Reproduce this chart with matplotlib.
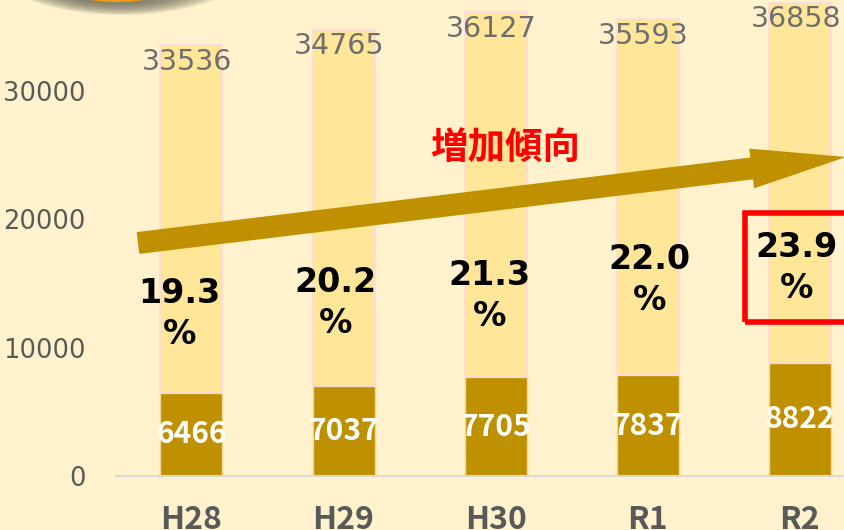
import numpy as np
import matplotlib
matplotlib.use('Agg')
import matplotlib.pyplot as plt
from matplotlib.patches import FancyArrow, Ellipse, Rectangle
from matplotlib.transforms import IdentityTransform, blended_transform_factory

# data
years = ['H28', 'H29', 'H30', 'R1', 'R2']
total = [33536, 34765, 36127, 35593, 36858]
elderly = [6466, 7037, 7705, 7837, 8822]
ratio = ['19.3', '20.2', '21.3', '22.0', '23.9']
yticks = [0, 10000, 20000, 30000]

W = 844; H = 530
bg = '#FFF2CC'
gold = '#BF9000'
light = '#FFE699'

fig = plt.figure(figsize=(W/100., H/100.), dpi=100, facecolor=bg)
ax = fig.add_axes([116./W, (H-476.)/H, (W-116.)/W, 476./H])
ax.set_facecolor(bg)

x = np.arange(len(years))
rest = [t-e for t, e in zip(total, elderly)]
ax.bar(x, elderly, width=0.408, color=gold, edgecolor='#F2D98C', linewidth=1)
ax.bar(x, rest, bottom=elderly, width=0.408, color=light, edgecolor='#FFD9E2', linewidth=1.2)

ax.set_xlim(-0.496, 4.29)
ax.set_ylim(0, 37072)
for s in ['top', 'right', 'left']:
    ax.spines[s].set_visible(False)
ax.spines['bottom'].set_color('#D9D9D9')
ax.spines['bottom'].set_linewidth(1.5)

ax.set_yticks(yticks)
ax.set_yticklabels([str(v) for v in yticks], fontsize=18.5, color='#595959', family='DejaVu Sans')
ax.tick_params(axis='y', length=0, pad=22)
ax.set_xticks(x)
ax.set_xticklabels(years, fontsize=23, fontweight='bold', color='#595959', family='Noto Sans CJK JP')
ax.tick_params(axis='x', length=0, pad=20)

# total labels
for i, t in enumerate(total):
    ax.annotate(str(t), (i, t), xytext=(-3, -12), textcoords='offset points',
                ha='center', va='center', fontsize=20.5, color='#6E6E6E', family='DejaVu Sans')
# elderly labels
for i, e in enumerate(elderly):
    ax.text(i, e/2., str(e), ha='center', va='center', fontsize=21.5, color='white',
            fontweight='bold', family='Noto Sans CJK JP')

# percentage labels (pixel heights from top of figure)
pct_px = [314, 303, 296, 280, 268]
pct_dx = [-12, -8, -6, 2, -3]
tr = blended_transform_factory(ax.transData, IdentityTransform())
for i, r in enumerate(ratio):
    ax.annotate(r + '\n%', (i, H - pct_px[i]), xycoords=tr, xytext=(pct_dx[i]*0.72, 0),
                textcoords='offset points', ha='center', va='center', multialignment='center',
                fontsize=24, fontweight='bold', color='black', linespacing=1.3,
                family='DejaVu Sans')

# red box around last label
fig.add_artist(Rectangle((745, H-322), 110, 109, fill=False, edgecolor='#FF0000',
                         linewidth=4, transform=IdentityTransform()))

# trend arrow
x0, y0 = 138, H-243
x1, y1 = 846, H-157
fig.add_artist(FancyArrow(x0, y0, x1-x0, y1-y0, width=22, head_width=40, head_length=95,
                          length_includes_head=True, color=gold, linewidth=0,
                          transform=IdentityTransform()))
fig.text(505./W, 1-147./H, '増加傾向', ha='center', va='center', fontsize=27,
         fontweight='bold', color='#FF0000', family='Noto Sans CJK JP')

# decorative orange ellipse with shadow at top left
n = 12
for k in range(n):
    f = k/float(n-1)
    cx = 122 - 5*f
    w = 280 - (280-172)*f
    h = 120 - (120-82)*f
    cy = 577 - (577-569)*f - 2
    fig.add_artist(Ellipse((cx, cy), w, h, facecolor='#6A6A5A', alpha=0.12,
                           linewidth=0, transform=IdentityTransform()))
fig.add_artist(Ellipse((117, 569), 172, 82, facecolor='#F39C12', linewidth=0,
                       transform=IdentityTransform()))

fig.savefig('out.png', dpi=100, facecolor=bg)
